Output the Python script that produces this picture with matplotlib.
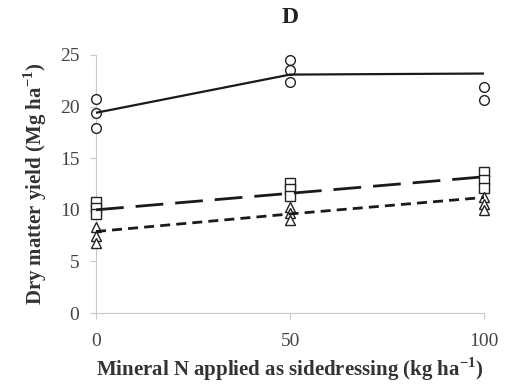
import matplotlib
matplotlib.use("Agg")
from matplotlib import pyplot as plt

plt.rcParams['font.family'] = ['Liberation Serif', 'DejaVu Serif']
plt.rcParams['mathtext.fontset'] = 'custom'
plt.rcParams['mathtext.rm'] = 'Liberation Serif'
plt.rcParams['mathtext.bf'] = 'Liberation Serif:bold'

# 施肥量 (kg ha-1)
n_rates = [0, 50, 100]

# 各处理的重复观测值
circle_x = [0, 0, 0, 50, 50, 50, 100, 100]
circle_y = [20.7, 19.4, 17.9, 24.5, 23.5, 22.4, 21.9, 20.6]
square_x = [0, 0, 0, 50, 50, 50, 100, 100, 100]
square_y = [10.8, 10.2, 9.6, 12.6, 12.0, 11.3, 13.7, 12.9, 12.1]
triangle_x = [0, 0, 0, 50, 50, 50, 100, 100, 100]
triangle_y = [8.3, 7.5, 6.8, 10.3, 9.7, 9.0, 11.2, 10.6, 10.0]

# 拟合线
fit_solid = [19.4, 23.1, 23.2]
fit_long = [10.0, 11.6, 13.2]
fit_short = [7.9, 9.6, 11.2]

fig = plt.figure(figsize=(5.08, 3.87), dpi=100)
ax = fig.add_axes([0.189, 0.191, 0.764, 0.667])

mk = dict(linestyle='none', markerfacecolor='white', markeredgecolor='#222222',
          markeredgewidth=1.0, markersize=7, clip_on=False, zorder=3)
ax.plot(circle_x, circle_y, marker='o', **mk)
ax.plot(square_x, square_y, marker='s', **mk)
ax.plot(triangle_x, triangle_y, marker='^', **mk)

ax.plot(n_rates, fit_solid, color='#1a1a1a', lw=1.6, zorder=4)
ax.plot(n_rates, fit_long, color='#1a1a1a', lw=2.0, dashes=(10, 4.3), zorder=4)
ax.plot(n_rates, fit_short, color='#1a1a1a', lw=2.0, dashes=(3.6, 2.2), zorder=4)

ax.set_xlim(0, 100)
ax.set_ylim(0, 25)
ax.set_xticks([0, 50, 100])
ax.set_yticks([0, 5, 10, 15, 20, 25])

for side in ['top', 'right']:
    ax.spines[side].set_visible(False)
for side in ['left', 'bottom']:
    ax.spines[side].set_color('#c8c8c8')
    ax.spines[side].set_linewidth(0.8)
ax.tick_params(axis='both', colors='#c8c8c8', labelcolor='#444444',
               labelsize=14, length=4, width=0.8)
ax.tick_params(axis='y', pad=8)
ax.tick_params(axis='x', pad=10)

ax.set_title('D', fontsize=17, fontweight='bold', pad=23, color='#222222')
ax.set_xlabel('Mineral N applied as sidedressing (kg ha$^{\\mathbf{-1}}$)',
              fontsize=15, fontweight='bold', color='#333333', labelpad=4)
ax.set_ylabel('Dry matter yield (Mg ha$^{\\mathbf{-1}}$)',
              fontsize=15, fontweight='bold', color='#333333', labelpad=8)

fig.savefig('out.png', dpi=100, facecolor='white')
